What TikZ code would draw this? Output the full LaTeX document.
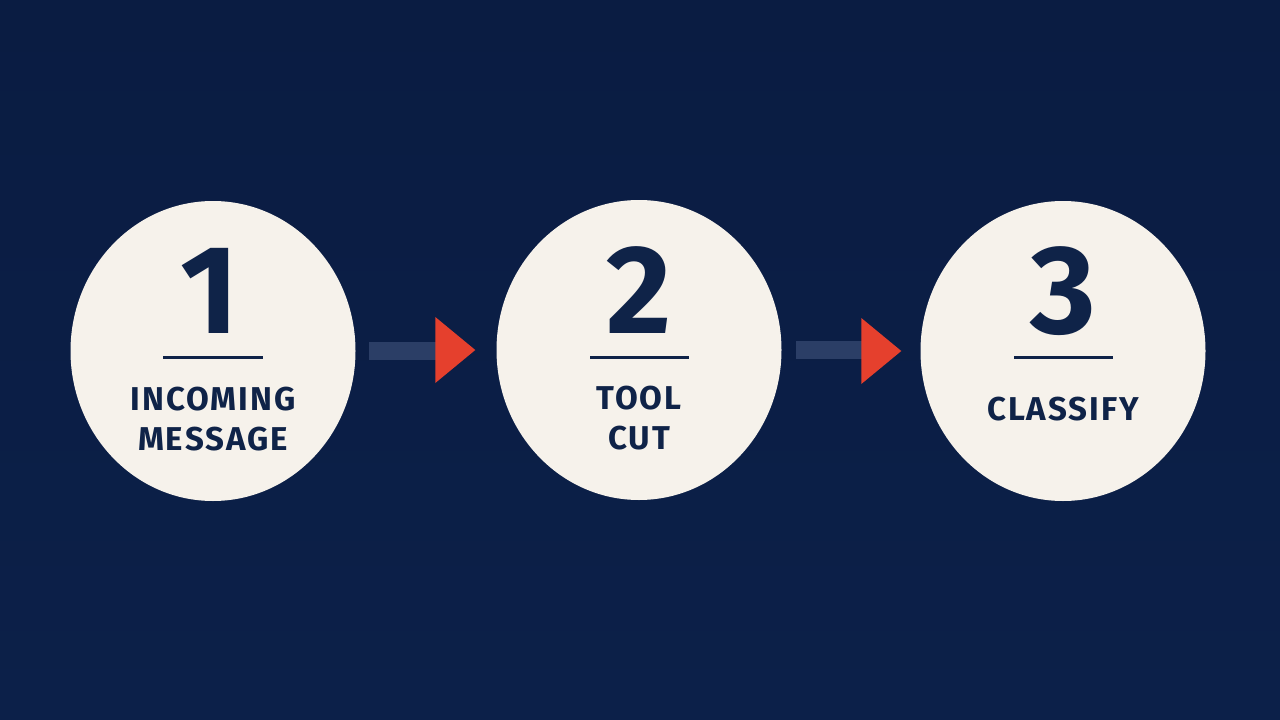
\documentclass[tikz,border=0pt]{standalone}
\usepackage{fontspec}
\setmainfont{Fira Sans}
\newfontfamily\labelfont{Fira Sans}[LetterSpace=6.0]
\usetikzlibrary{shapes.geometric}
\definecolor{bgtop}{HTML}{0A1C42}
\definecolor{bgbot}{HTML}{0C2049}
\definecolor{cream}{HTML}{F6F2EB}
\definecolor{ink}{HTML}{0F2348}
\definecolor{barcol}{HTML}{2B3E66}
\definecolor{arrred}{HTML}{E5402D}
\tikzset{
  stepcircle/.style={ellipse, fill=cream, minimum width=285pt, minimum height=300pt, inner sep=0pt},
  stepnum/.style={anchor=base, inner sep=0pt, text=ink, font=\fontsize{126}{126}\selectfont\bfseries},
  steplabel/.style={anchor=north, inner sep=0pt, align=center, text=ink, font=\labelfont\fontsize{33}{40}\selectfont\bfseries},
  rule/.style={draw=ink, line width=3pt},
  barstyle/.style={fill=barcol},
  headstyle/.style={fill=arrred}
}
\begin{document}
\begin{tikzpicture}[x=1pt,y=-1pt]
  \shade[top color=bgtop, bottom color=bgbot] (0,0) rectangle (1280,720);
  \useasboundingbox (0,0) rectangle (1280,720);

  \node[stepcircle] (c1) at (213,351) {};
  \node[stepcircle] (c2) at (639,350) {};
  \node[stepcircle] (c3) at (1063,351) {};

  \node[stepnum] (n1) at (210,333) {1};
  \node[stepnum] (n2) at (639,333) {2};
  \node[stepnum] (n3) at (1063,333) {3};

  \draw[rule] (163,357) -- (263,357);
  \draw[rule] (590,357) -- (689,357);
  \draw[rule] (1014,357) -- (1113,357);

  \node[steplabel] (l1) at (213,387) {INCOMING\\MESSAGE};
  \node[steplabel] (l2) at (639,386) {TOOL\\CUT};
  \node[steplabel] (l3) at (1063,397) {CLASSIFY};

  % connector 1 -> 2
  \fill[barstyle] ([xshift=13pt,yshift=9pt]c1.east) rectangle ([xshift=81pt,yshift=-9pt]c1.east);
  \fill[headstyle] ([xshift=-21pt]c2.west) -- ([xshift=-61pt,yshift=33pt]c2.west) -- ([xshift=-61pt,yshift=-33pt]c2.west) -- cycle;
  % connector 2 -> 3
  \fill[barstyle] ([xshift=14pt,yshift=9pt]c2.east) rectangle ([xshift=82pt,yshift=-9pt]c2.east);
  \fill[headstyle] ([xshift=-19pt]c3.west) -- ([xshift=-59pt,yshift=33pt]c3.west) -- ([xshift=-59pt,yshift=-33pt]c3.west) -- cycle;
\end{tikzpicture}
\end{document}
